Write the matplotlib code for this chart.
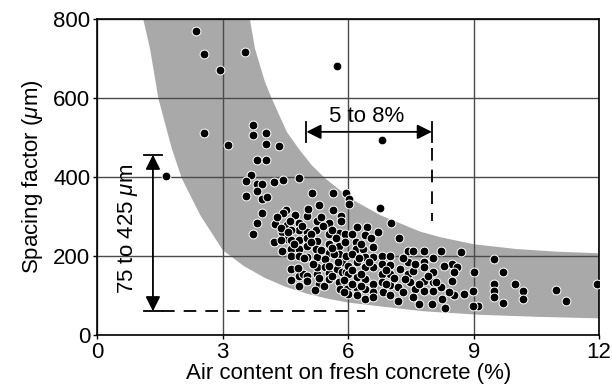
import numpy as np
import matplotlib.pyplot as plt

plt.rcParams['font.family'] = ['Liberation Sans', 'DejaVu Sans']
plt.rcParams['mathtext.fontset'] = 'custom'
plt.rcParams['mathtext.it'] = 'Liberation Sans:italic'
plt.rcParams['mathtext.rm'] = 'Liberation Sans'

# measured points: air content (%) and spacing factor (um)
air = [2.36, 2.55, 3.53, 2.93, 5.73, 2.55, 3.13, 6.80, 1.64,
       3.72, 3.72, 4.03, 4.03, 4.35, 3.83, 4.03, 3.68, 3.55, 3.83, 3.94,
       4.23, 4.43, 4.82, 3.83, 3.55, 3.94, 4.05, 3.94, 3.83, 3.72,
       5.14, 5.63, 5.95, 6.03, 6.03, 5.31, 5.63, 6.76, 7.02, 7.22,
       4.51, 4.45, 4.73, 5.02, 5.25, 5.53, 5.82, 5.82, 4.25, 4.53,
       4.83, 4.83, 4.41, 4.62, 5.02, 5.23, 5.53, 5.77, 5.92, 4.53,
       4.62, 4.83, 5.02, 5.25, 4.23, 4.41, 4.62, 4.83, 5.02, 5.23,
       5.53, 5.53, 5.77, 5.92, 5.77, 4.62, 4.83, 5.02, 5.25, 5.45,
       5.65, 5.85, 5.95, 4.62, 4.83, 4.93, 5.02, 5.25, 5.25, 5.45,
       5.53, 5.73, 5.85, 5.95, 4.62, 4.83, 5.02, 5.31, 5.41, 5.53,
       5.77, 5.95, 5.81, 5.96, 6.20, 6.44, 6.40, 6.54, 6.72, 6.19,
       6.19, 6.36, 6.00, 6.00, 6.00, 6.60, 6.60, 6.80, 7.00, 6.80,
       7.00, 7.00, 6.80, 6.60, 6.40, 6.40, 6.20, 6.20, 7.44, 7.54,
       7.44, 7.24, 7.44, 7.48, 6.40, 6.60, 6.80, 7.00, 7.20, 6.60,
       6.40, 6.20, 6.20, 6.84, 7.00, 7.20, 6.40, 6.60, 7.80, 8.21,
       8.69, 8.02, 9.49, 7.80, 7.80, 8.48, 8.60, 8.52, 7.56, 8.02,
       9.01, 9.70, 8.48, 7.60, 7.81, 8.02, 8.02, 8.21, 8.52, 8.76,
       8.99, 9.49, 9.49, 9.49, 8.24, 8.32, 7.70, 9.11, 9.99, 10.19,
       10.19, 10.96, 11.20, 11.96, 9.70, 7.36, 7.80, 8.00, 7.54, 8.99,
       4.30, 4.60, 4.90, 5.10, 5.40, 5.60, 5.70, 6.10, 6.30, 5.10,
       4.70, 4.40, 5.35, 5.60, 6.10, 6.25, 5.15, 4.95, 5.55, 5.75,
       6.10, 4.80, 5.30, 5.60, 5.90, 6.10, 5.20, 6.30, 6.50, 6.90,
       7.10, 7.30, 7.60, 7.90, 8.10, 8.30, 7.30, 6.90, 7.70, 8.40,
       5.90, 6.30, 4.40, 4.55, 5.35, 5.05]
spacing = [770, 713, 718, 673, 681, 513, 481, 495, 402,
           533, 507, 511, 484, 479, 443, 443, 406, 391, 382, 382,
           389, 392, 399, 366, 353, 344, 349, 308, 284, 256,
           360, 360, 360, 344, 332, 329, 317, 323, 284, 245,
           317, 309, 304, 302, 289, 284, 302, 289, 281, 279,
           284, 267, 260, 267, 260, 267, 256, 258, 256, 243,
           241, 241, 245, 239, 235, 214, 219, 219, 226, 219,
           230, 209, 226, 235, 205, 199, 199, 197, 197, 192,
           205, 184, 201, 167, 150, 154, 149, 154, 171, 171,
           157, 167, 159, 159, 140, 123, 138, 129, 123, 142,
           133, 129, 116, 116, 273, 273, 253, 245, 260, 235,
           218, 218, 176, 154, 104, 222, 197, 199, 199, 180,
           177, 154, 154, 171, 197, 171, 184, 146, 214, 212,
           184, 167, 154, 133, 142, 129, 133, 127, 121, 108,
           116, 118, 100, 108, 100, 87, 91, 95, 214, 214,
           211, 194, 192, 184, 171, 180, 171, 159, 163, 160,
           159, 159, 138, 116, 112, 112, 133, 121, 100, 104,
           112, 129, 112, 95, 91, 68, 78, 74, 129, 112,
           91, 115, 87, 129, 81, 142, 138, 78, 95, 73,
           300, 290, 275, 255, 275, 265, 245, 255, 230, 235,
           230, 240, 215, 220, 205, 195, 180, 195, 175, 185,
           165, 170, 145, 150, 140, 130, 115, 155, 185, 165,
           145, 195, 180, 150, 135, 175, 110, 130, 130, 110,
           110, 125, 270, 260, 300, 320]

# grey envelope, read along its two edges
band_up_x = [3.65, 3.77, 4.01, 4.17, 4.53, 4.81, 5.13, 5.45, 6.05, 6.76,
             7.72, 8.2, 9.0, 10.0, 11.0, 12.0]
band_up_y = [800, 726, 641, 600, 515, 473, 430, 397, 346, 304,
             262, 248, 230, 218, 211, 207]
band_lo_x = [1.10, 1.26, 1.46, 1.78, 2.02, 2.46, 3.0, 3.5, 4.0, 4.5,
             5.0, 5.5, 6.0, 6.8, 7.8, 9.15, 10.5, 12.0]
band_lo_y = [800, 726, 600, 473, 397, 304, 215, 175, 145, 122,
             105, 92, 82, 72, 60, 51, 46, 42]

fig = plt.figure(figsize=(6.12, 3.89), dpi=100)
ax = fig.add_axes([0.159, 0.139, 0.820, 0.811])

ax.fill(band_up_x + band_lo_x[::-1], band_up_y + band_lo_y[::-1],
        color='#a9a9a9', lw=0, zorder=1)

ax.set_axisbelow('line')
ax.grid(True, color='#4a4a4a', lw=1.0)

ax.scatter(air, spacing, s=40, c='black', edgecolors='white',
           linewidths=0.7, zorder=4)

# "5 to 8%" range
ax.annotate('', xy=(5, 515), xytext=(8, 515),
            arrowprops=dict(arrowstyle='<|-|>', color='black', lw=1.3,
                            mutation_scale=22, shrinkA=0, shrinkB=0),
            zorder=5)
ax.plot([5, 5], [490, 540], color='black', lw=1.3, zorder=5)
ax.plot([8, 8], [490, 540], color='black', lw=1.3, zorder=5)
ax.plot([8, 8], [475, 290], color='black', lw=1.3, ls=(0, (7, 5)), zorder=5)
ax.text(6.45, 553, '5 to 8%', ha='center', va='center', fontsize=16,
        zorder=5)

# "75 to 425 um" range
ax.annotate('', xy=(1.33, 457), xytext=(1.33, 60),
            arrowprops=dict(arrowstyle='<|-|>', color='black', lw=1.3,
                            mutation_scale=22, shrinkA=0, shrinkB=0),
            zorder=5)
ax.plot([1.12, 1.55], [457, 457], color='black', lw=1.3, zorder=5)
ax.plot([1.12, 1.55], [60, 60], color='black', lw=1.3, zorder=5)
ax.plot([1.55, 6.4], [60, 60], color='black', lw=1.3, ls=(0, (7, 5)),
        zorder=5)
ax.text(0.74, 268, r'75 to 425 $\mu$m', rotation=90, ha='center',
        va='center', fontsize=16, zorder=5)

ax.set_xlim(0, 12)
ax.set_ylim(0, 800)
ax.set_xticks([0, 3, 6, 9, 12])
ax.set_yticks([0, 200, 400, 600, 800])
ax.tick_params(labelsize=16, length=3, width=1, pad=2)
for s in ax.spines.values():
    s.set_linewidth(1.2)

ax.set_xlabel('Air content on fresh concrete (%)', fontsize=16, labelpad=0)
ax.set_ylabel(r'Spacing factor ($\mu$m)', fontsize=16, labelpad=6)

fig.savefig('out.png', dpi=100)
